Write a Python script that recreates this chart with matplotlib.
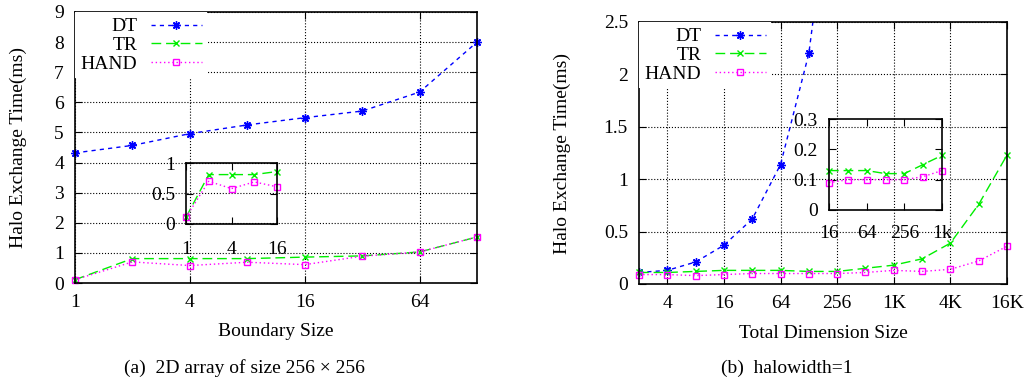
import matplotlib
matplotlib.use("Agg")
import matplotlib.pyplot as plt
from matplotlib.ticker import NullLocator

plt.rcParams['font.family'] = ['Liberation Serif', 'DejaVu Serif']
plt.rcParams['font.size'] = 14

# (a) 2D array 256x256, sweep over boundary size
boundary = [1, 2, 4, 8, 16, 32, 64, 128]
dt_a = [4.32, 4.57, 4.96, 5.25, 5.49, 5.71, 6.34, 8.0]
tr_a = [0.11, 0.81, 0.81, 0.81, 0.86, 0.90, 1.03, 1.53]
hand_a = [0.11, 0.70, 0.58, 0.69, 0.61, 0.89, 1.03, 1.53]

# (b) halowidth=1, sweep over total dimension size
dims = [2, 4, 8, 16, 32, 64, 128, 256, 512, 1024, 2048, 4096, 8192, 16384]
dt_b = [0.11, 0.13, 0.21, 0.37, 0.62, 1.14, 2.20, 4.3]   # goes off the top after 128
tr_b = [0.11, 0.11, 0.12, 0.13, 0.13, 0.13, 0.12, 0.12, 0.15, 0.18, 0.24, 0.39, 0.76, 1.23]
hand_b = [0.09, 0.09, 0.08, 0.09, 0.10, 0.10, 0.10, 0.10, 0.11, 0.13, 0.12, 0.14, 0.22, 0.36]

series_names = ["DT", "TR", "HAND"]

W, H = 1025, 383


def frac(x0, y0, x1, y1):
    # pixel box (from top-left) -> figure fraction
    return [x0 / W, (H - y1) / H, (x1 - x0) / W, (y1 - y0) / H]


def draw_lines(ax, x, dt, tr, hand, clip_dt=False):
    ax.plot(x[:len(dt)], dt, color="#0000ff", lw=1.0, ls=(0, (3, 3)),
            marker=(8, 2, 0), ms=6, mew=1.0, label=series_names[0], clip_on=clip_dt)
    ax.plot(x[:len(tr)], tr, color="#00ee00", lw=1.0, ls=(0, (7, 3.5)),
            marker="x", ms=5, mew=1.0, label=series_names[1], clip_on=False)
    ax.plot(x[:len(hand)], hand, color="#ff00ff", lw=1.0, ls=(0, (1, 2)),
            marker="s", ms=4.5, mfc="none", mew=1.0, label=series_names[2], clip_on=False)


def style_axes(ax, xticks, xlabels, yticks, ylabels, xpad=8, ypad=8):
    ax.set_xscale("log", base=2)
    ax.set_xticks(xticks)
    ax.set_xticklabels(xlabels)
    ax.xaxis.set_minor_locator(NullLocator())
    ax.set_yticks(yticks)
    ax.set_yticklabels(ylabels)
    ax.tick_params(direction="in", top=True, right=True, length=5, width=0.8)
    ax.tick_params(axis="x", pad=xpad)
    ax.tick_params(axis="y", pad=ypad)
    for s in ax.spines.values():
        s.set_linewidth(1.2)


def add_legend(ax):
    leg = ax.legend(loc="upper left", bbox_to_anchor=(0.0, 1.0), markerfirst=False,
                    numpoints=1, handlelength=2.6, handletextpad=0.7, labelspacing=0.05,
                    borderpad=0.3, borderaxespad=0, fancybox=False, framealpha=1,
                    edgecolor="none", facecolor="white")
    leg.set_zorder(5)


fig = plt.figure(figsize=(10.25, 3.83), dpi=100)

# ---- (a) ----
ax1 = fig.add_axes(frac(75, 12, 477, 283))
draw_lines(ax1, boundary, dt_a, tr_a, hand_a)
ax1.set_xlim(1, 128)
ax1.set_ylim(0, 9)
style_axes(ax1, [1, 4, 16, 64], ["1", "4", "16", "64"],
           range(0, 10), [str(v) for v in range(0, 10)])
ax1.grid(True, color="black", ls=":", lw=0.8)
ax1.set_axisbelow(True)
ax1.set_xlabel("Boundary Size")
ax1.xaxis.set_label_coords(0.5, (283 - 332) / 271)
ax1.xaxis.label.set_va("center")
ax1.set_ylabel("Halo Exchange Time(ms)")
ax1.yaxis.set_label_coords((18 - 75) / 402, 0.5)
ax1.yaxis.label.set_va("center")
add_legend(ax1)

# inset: boundary 1..16, TR and HAND only
in1 = fig.add_axes(frac(186, 163, 277, 224))
in1.set_facecolor("none")
draw_lines(in1, boundary[:5], [], tr_a[:5], hand_a[:5])
in1.set_xlim(1, 16)
in1.set_ylim(0, 1)
style_axes(in1, [1, 4, 16], ["1", "4", "16"], [0, 0.5, 1], ["0", "0.5", "1"],
           xpad=12, ypad=8)

# ---- (b) ----
ax2 = fig.add_axes(frac(639, 22, 1007, 284))
draw_lines(ax2, dims, dt_b, tr_b, hand_b, clip_dt=True)
ax2.set_xlim(2, 16384)
ax2.set_ylim(0, 2.5)
style_axes(ax2, [4, 16, 64, 256, 1024, 4096, 16384],
           ["4", "16", "64", "256", "1K", "4K", "16K"],
           [0, 0.5, 1, 1.5, 2, 2.5], ["0", "0.5", "1", "1.5", "2", "2.5"])
ax2.grid(True, color="black", ls=":", lw=0.8)
ax2.set_axisbelow(True)
ax2.set_xlabel("Total Dimension Size")
ax2.xaxis.set_label_coords(0.5, (284 - 333) / 262)
ax2.xaxis.label.set_va("center")
ax2.set_ylabel("Halo Exchange Time(ms)")
ax2.yaxis.set_label_coords((562 - 639) / 368, 0.5)
ax2.yaxis.label.set_va("center")
add_legend(ax2)

# inset: dimension 16..1k, TR and HAND only
in2 = fig.add_axes(frac(829, 119, 942, 210))
in2.set_facecolor("none")
draw_lines(in2, dims[3:10], [], tr_b[3:10], hand_b[3:10])
in2.set_xlim(16, 1024)
in2.set_ylim(0, 0.3)
style_axes(in2, [16, 64, 256, 1024], ["16", "64", "256", "1k"],
           [0, 0.1, 0.2, 0.3], ["0", "0.1", "0.2", "0.3"], xpad=11, ypad=8)

# captions
fig.text(244 / W, 1 - 368 / H, "(a)  2D array of size 256 \u00d7 256", ha="center", va="center")
fig.text(787 / W, 1 - 368 / H, "(b)  halowidth=1", ha="center", va="center")

plt.savefig("out.png", dpi=100)
